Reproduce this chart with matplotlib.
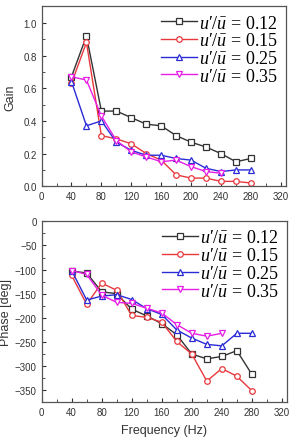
import matplotlib
matplotlib.use("Agg")
import matplotlib.pyplot as plt
from matplotlib.ticker import MultipleLocator

plt.rcParams['font.family'] = ['Liberation Sans', 'DejaVu Sans']
plt.rcParams['mathtext.fontset'] = 'custom'
plt.rcParams['mathtext.rm'] = 'Liberation Serif'
plt.rcParams['mathtext.it'] = 'Liberation Serif:italic'
plt.rcParams['mathtext.bf'] = 'Liberation Serif:bold'

freq = [40, 60, 80, 100, 120, 140, 160, 180, 200, 220, 240, 260, 280]
freq_035 = [40, 60, 80, 100, 120, 140, 160, 180, 200, 220, 240]

labels = ["$u$\u2032/$\\bar{u}$ = 0.12", "$u$\u2032/$\\bar{u}$ = 0.15",
          "$u$\u2032/$\\bar{u}$ = 0.25", "$u$\u2032/$\\bar{u}$ = 0.35"]

gain_012 = [0.67, 0.92, 0.46, 0.46, 0.42, 0.38, 0.37, 0.31, 0.27, 0.24, 0.20, 0.15, 0.17]
gain_015 = [0.63, 0.88, 0.31, 0.29, 0.26, 0.20, 0.16, 0.07, 0.05, 0.05, 0.03, 0.03, 0.02]
gain_025 = [0.64, 0.37, 0.40, 0.27, 0.22, 0.19, 0.19, 0.17, 0.16, 0.11, 0.09, 0.10, 0.10]
gain_035 = [0.67, 0.65, 0.43, 0.28, 0.21, 0.18, 0.15, 0.16, 0.12, 0.09, 0.08]

phase_012 = [-103, -107, -146, -150, -182, -196, -212, -235, -275, -285, -280, -268, -317]
phase_015 = [-112, -172, -128, -143, -195, -199, -209, -249, -275, -331, -305, -321, -351]
phase_025 = [-102, -163, -155, -152, -162, -181, -193, -225, -242, -255, -258, -232, -232]
phase_035 = [-102, -110, -153, -168, -170, -180, -190, -214, -232, -238, -232]

colors = ['#333333', '#e8383d', '#2a2ad6', '#e61ee6']
markers = ['s', 'o', '^', 'v']

fig = plt.figure(figsize=(2.93, 4.39), dpi=100)
ax1 = fig.add_axes([0.142, 0.5734, 0.834, 0.4096])
ax2 = fig.add_axes([0.142, 0.0813, 0.838, 0.4123])

gains = [(freq, gain_012), (freq, gain_015), (freq, gain_025), (freq_035, gain_035)]
phases = [(freq, phase_012), (freq, phase_015), (freq, phase_025), (freq_035, phase_035)]

for ax, data in [(ax1, gains), (ax2, phases)]:
    for (x, y), c, m, lab in zip(data, colors, markers, labels):
        ax.plot(x, y, color=c, marker=m, markersize=4, markerfacecolor='white',
                markeredgecolor=c, markeredgewidth=0.9, linewidth=1.0, label=lab)
    ax.set_xlim(0, 327)
    ax.xaxis.set_major_locator(MultipleLocator(40))
    ax.xaxis.set_minor_locator(MultipleLocator(20))
    ax.tick_params(axis='both', which='both', direction='in', labelsize=7,
                   colors='#333333', top=False, right=False)
    ax.tick_params(which='major', length=3)
    ax.tick_params(which='minor', length=2)
    for s in ax.spines.values():
        s.set_color('#555555')
        s.set_linewidth(0.9)
    leg = ax.legend(loc='upper right', frameon=False,
                    prop={'family': 'Liberation Serif', 'size': 13},
                    handlelength=2.0, handletextpad=0.1, labelspacing=0.04,
                    borderaxespad=0.25, borderpad=0.2)

ax1.set_ylim(0, 1.1)
ax1.yaxis.set_major_locator(MultipleLocator(0.2))
ax1.yaxis.set_minor_locator(MultipleLocator(0.1))
ax1.yaxis.set_major_formatter(matplotlib.ticker.FormatStrFormatter('%.1f'))
ax1.set_ylabel('Gain', fontsize=9, color='#333333', labelpad=5)

ax2.set_ylim(-375, 0)
ax2.yaxis.set_major_locator(MultipleLocator(50))
ax2.yaxis.set_minor_locator(MultipleLocator(25))
ax2.set_ylabel('Phase [deg]', fontsize=9, color='#333333', labelpad=2)
ax2.set_xlabel('Frequency (Hz)', fontsize=9, color='#333333', labelpad=5)

fig.savefig('out.png', dpi=100)
